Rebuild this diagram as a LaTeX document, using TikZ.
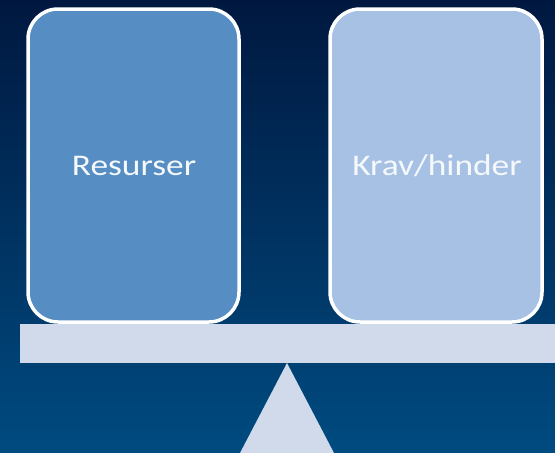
\documentclass[tikz,border=0pt]{standalone}
\usepackage{fontspec}
\setmainfont{Carlito}[FakeStretch=1.18]
\definecolor{bgtop}{HTML}{001840}
\definecolor{bgbot}{HTML}{004B80}
\definecolor{resfill}{HTML}{568DC3}
\definecolor{kravfill}{HTML}{A6C1E3}
\definecolor{beamfill}{HTML}{D0DAEB}
\definecolor{ghost}{HTML}{AEC7E6}
\begin{document}
\begin{tikzpicture}[x=1pt,y=-1pt,
  panel/.style={draw=white, line width=3.5pt, rounded corners=30pt, inner sep=0pt},
  paneltext/.style={text=white!90!kravfill, anchor=base, inner sep=0pt, font=\fontsize{30}{33}\selectfont}]
\useasboundingbox (0,0) rectangle (555,453);
\shade[top color=bgtop, bottom color=bgbot] (0,0) rectangle (555,453);
% boxes
\filldraw[panel, fill=resfill] (28,9) rectangle (239,322);
\filldraw[panel, fill=kravfill] (330,9) rectangle (542,322);
% faint triangle in right box
\draw[ghost, dotted, line width=0.8pt] (372,317) -- (449,182) -- (525,317);
\node[paneltext] (res) at (134,175) {Resurser};
\node[paneltext] (krav) at (437,175) {Krav/hinder};
% beam and fulcrum
\fill[beamfill] (20,324) rectangle (555,363);
\fill[beamfill] (287,363) -- (334,453) -- (240,453) -- cycle;
\end{tikzpicture}
\end{document}
